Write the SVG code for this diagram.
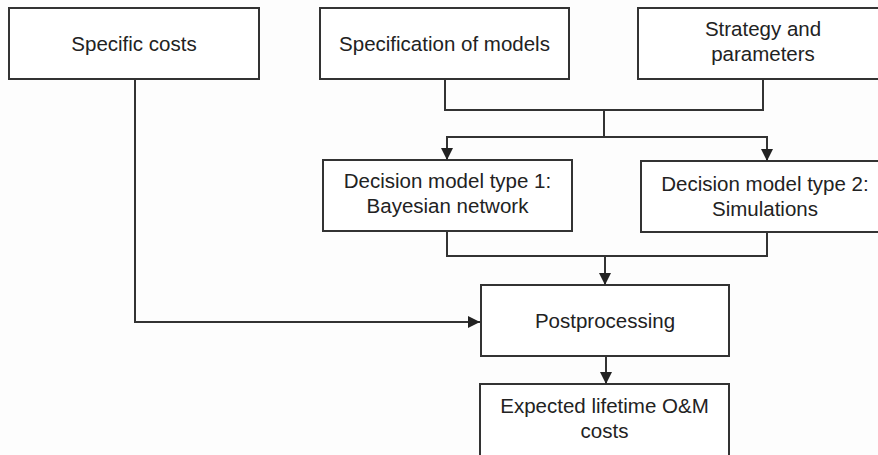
<svg xmlns="http://www.w3.org/2000/svg" width="878" height="455" viewBox="0 0 878 455">
<defs>
<style>
.box{fill:#fff;stroke:#333;stroke-width:2}
.t{font-family:"Liberation Sans",Arial,sans-serif;font-size:20.5px;fill:#222;text-anchor:middle}
.c{fill:none;stroke:#333;stroke-width:2}
</style>
<marker id="ah" markerUnits="userSpaceOnUse" markerWidth="12" markerHeight="12" viewBox="0 0 12 12" refX="12" refY="6" orient="auto">
<path d="M0,0 L12,6 L0,12 Z" fill="#222"/>
</marker>
</defs>
<rect width="878" height="455" fill="#fdfdfd"/>
<g id="n1"><rect class="box" x="9" y="8" width="250" height="71"/><text class="t" x="134" y="51">Specific costs</text></g>
<g id="n2"><rect class="box" x="320" y="8" width="249" height="71"/><text class="t" x="444.5" y="51">Specification of models</text></g>
<g id="n3"><rect class="box" x="638" y="8" width="252" height="71"/><text class="t" x="763" y="36">Strategy and</text><text class="t" x="763" y="61">parameters</text></g>
<g id="n4"><rect class="box" x="323" y="160" width="249" height="71"/><text class="t" x="447.5" y="188">Decision model type 1:</text><text class="t" x="447.5" y="213">Bayesian network</text></g>
<g id="n5"><rect class="box" x="641" y="161" width="252" height="71"/><text class="t" x="765" y="191">Decision model type 2:</text><text class="t" x="765" y="216">Simulations</text></g>
<g id="n6"><rect class="box" x="481" y="285" width="248" height="71"/><text class="t" x="605" y="328">Postprocessing</text></g>
<g id="n7"><rect class="box" x="480" y="384" width="249" height="75"/><text class="t" x="604.5" y="413">Expected lifetime O&amp;M</text><text class="t" x="604.5" y="438">costs</text></g>
<g id="connectors">
<path class="c" d="M135,79 V322 H480" marker-end="url(#ah)"/>
<path class="c" d="M445,79 V110 H763 V79"/>
<path class="c" d="M604,110 V137"/>
<path class="c" d="M604,137 H447 V160" marker-end="url(#ah)"/>
<path class="c" d="M604,137 H767 V161" marker-end="url(#ah)"/>
<path class="c" d="M447,231 V256 H767 V232"/>
<path class="c" d="M605,256 V285" marker-end="url(#ah)"/>
<path class="c" d="M606,356 V384" marker-end="url(#ah)"/>
</g>
</svg>
